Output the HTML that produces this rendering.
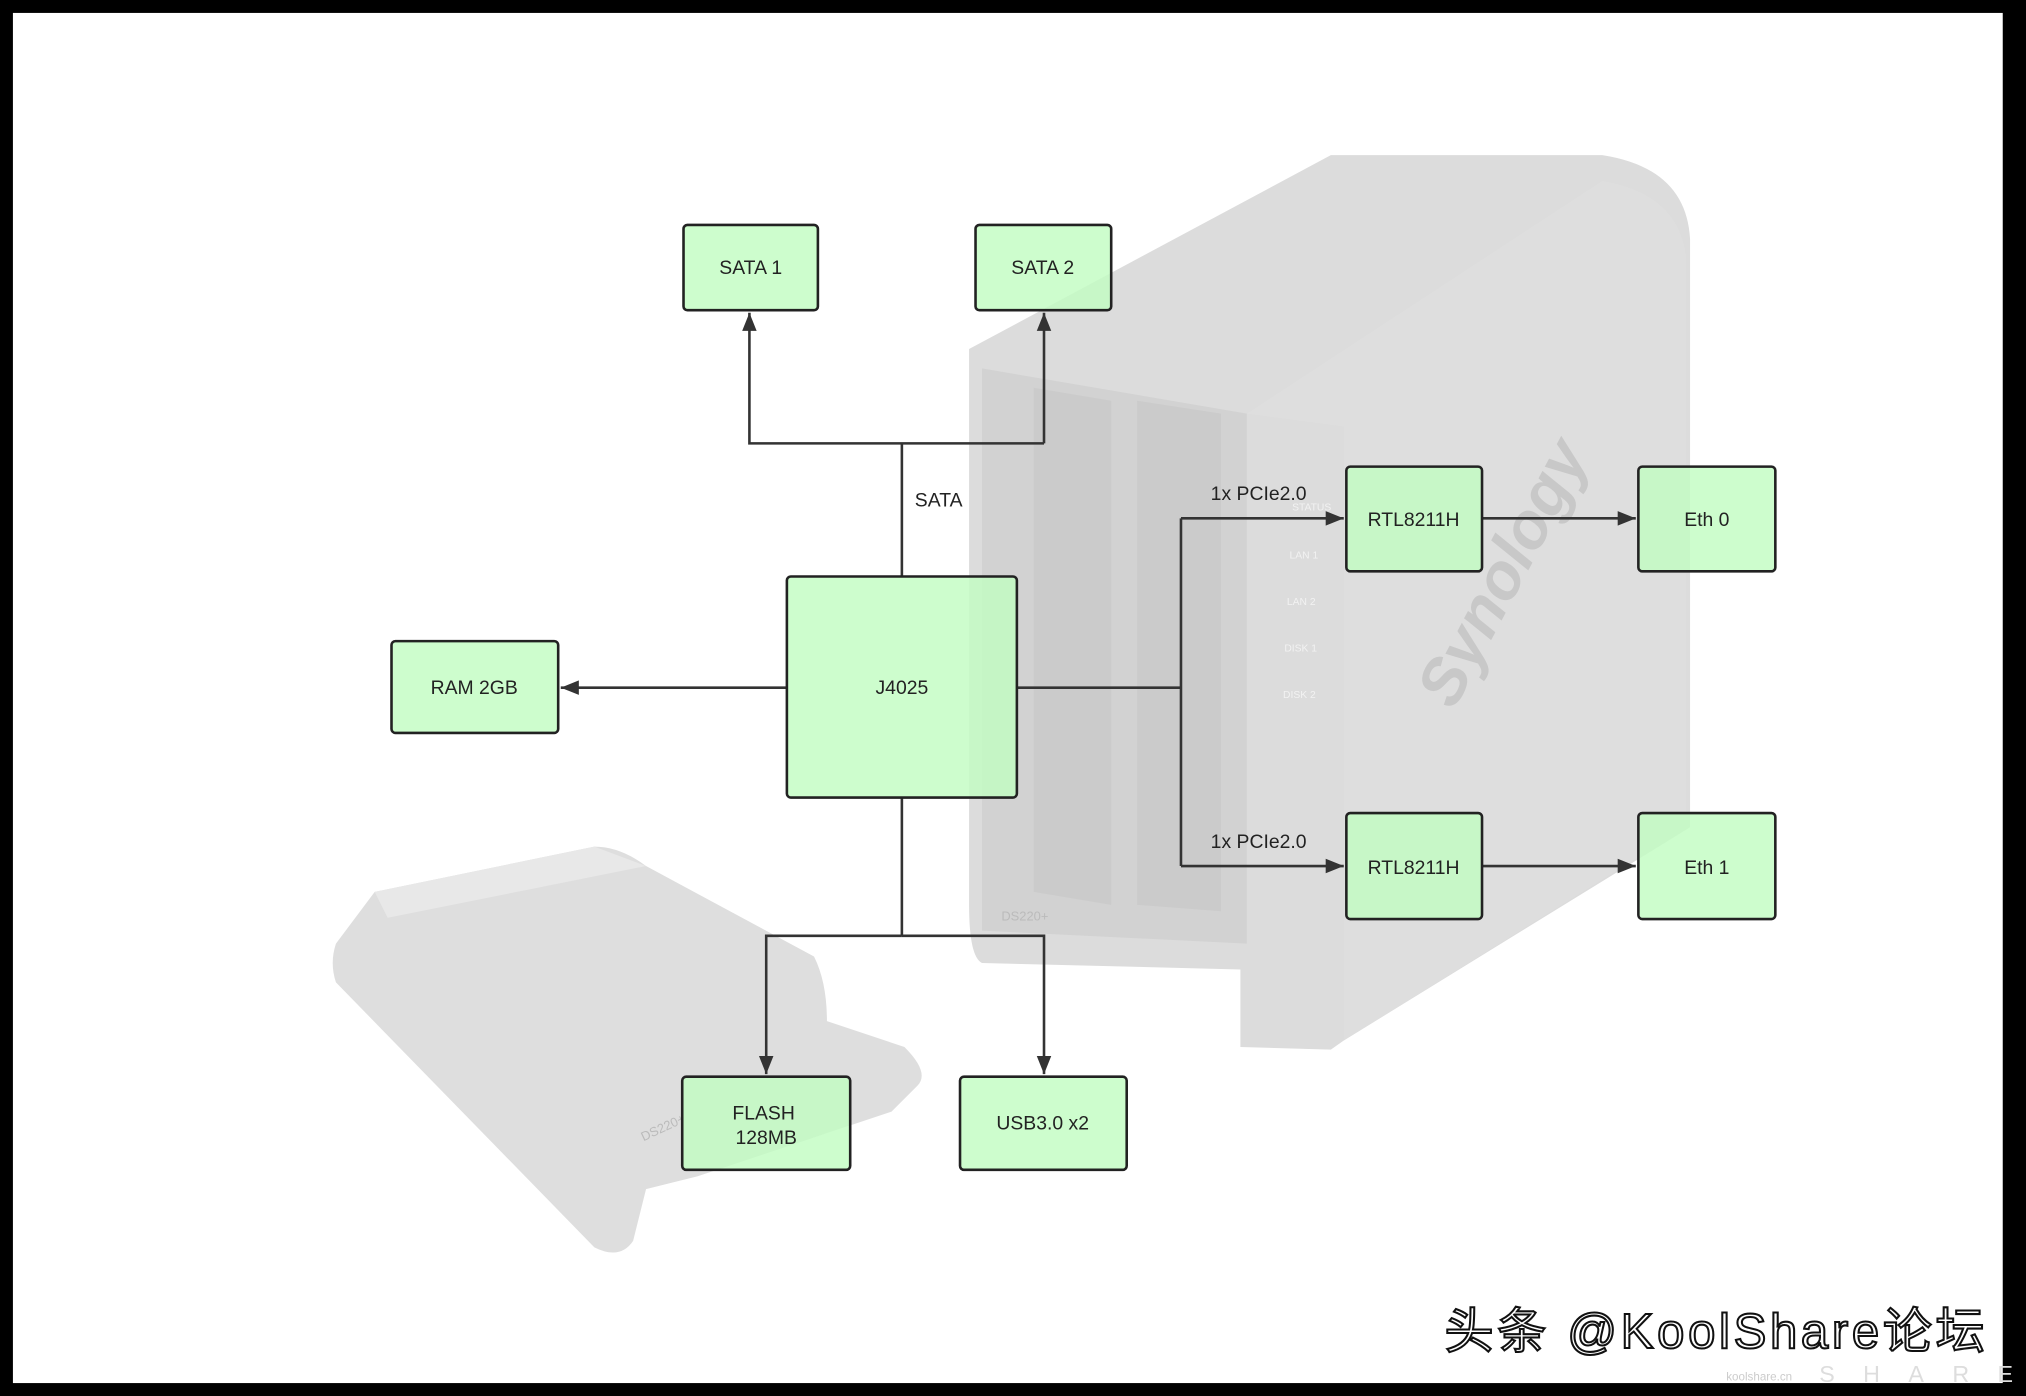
<!DOCTYPE html>
<html><head><meta charset="utf-8"><style>
html,body{margin:0;padding:0;background:#000;}
svg{display:block;}
</style></head><body>
<svg width="2026" height="1396" viewBox="0 0 1568 1080" preserveAspectRatio="none" xmlns="http://www.w3.org/2000/svg" font-family="Liberation Sans, Noto Sans CJK SC, sans-serif">
<defs>
<marker id="b" viewBox="0 0 10 10" refX="10" refY="5" markerWidth="14" markerHeight="14" orient="auto" markerUnits="userSpaceOnUse">
<path d="M0,1 L10,5 L0,9 z" fill="#333"/>
</marker>
</defs>
<rect x="0" y="0" width="1568" height="1080" fill="#000"/>
<rect x="10" y="10" width="1540" height="1060" fill="#fff"/>
<!-- NAS device backdrop -->
<path d="M750,270 L1030,120 L1240,120 Q1305,130 1308,185 L1308,640 L1040,805 L1030,812 L960,810 L960,750 L760,745 Q750,740 750,700 Z" fill="#dcdcdc"/>
<path d="M965,320 L1240,140 Q1300,150 1305,200 L1305,640 L1040,805 L1040,330 Z" fill="#dedede"/>
<path d="M760,285 L965,320 L965,730 L760,720 Z" fill="#d2d2d2"/>
<path d="M800,300 L860,310 L860,700 L800,690 Z" fill="#cbcbcb"/>
<path d="M880,310 L945,320 L945,705 L880,700 Z" fill="#cbcbcb"/>
<text x="1125" y="550" transform="rotate(-62 1125 550)" font-size="50" font-style="italic" font-weight="bold" fill="#c8c8c8">Synology</text>
<g font-size="8" fill="#f2f2f2"><text x="1000" y="395">STATUS</text><text x="998" y="432">LAN 1</text><text x="996" y="468">LAN 2</text><text x="994" y="504">DISK 1</text><text x="993" y="540">DISK 2</text></g>
<!-- drive cover -->
<path d="M290,690 L460,655 Q480,655 500,670 L630,740 Q640,760 640,790 L700,810 Q720,830 710,840 L690,860 L540,910 L500,920 L490,960 Q480,975 460,965 L260,760 Q255,745 260,730 Z" fill="#dedede"/>
<path d="M290,690 L460,655 L500,670 L300,710 Z" fill="#e8e8e8"/>
<text x="498" y="883" transform="rotate(-25 498 883)" font-size="10" fill="#bbb">DS220+</text>
<text x="775" y="712" font-size="10" fill="#bbb">DS220+</text>
<!-- connectors -->
<g stroke="#333" stroke-width="2" fill="none">
<path d="M698,446 L698,343"/>
<path d="M808,343 L580,343 L580,242" marker-end="url(#b)"/>
<path d="M808,343 L808,242" marker-end="url(#b)"/>
<path d="M609,532 L434,532" marker-end="url(#b)"/>
<path d="M787,532 L914,532"/>
<path d="M914,401 L914,670"/>
<path d="M914,401 L1040,401" marker-end="url(#b)"/>
<path d="M914,670 L1040,670" marker-end="url(#b)"/>
<path d="M1147,401 L1266,401" marker-end="url(#b)"/>
<path d="M1147,670 L1266,670" marker-end="url(#b)"/>
<path d="M698,617 L698,724"/>
<path d="M698,724 L593,724 L593,831" marker-end="url(#b)"/>
<path d="M698,724 L808,724 L808,831" marker-end="url(#b)"/>
</g>
<g font-size="15" fill="#222">
<text x="708" y="392">SATA</text>
<text x="937" y="387">1x PCIe2.0</text>
<text x="937" y="656">1x PCIe2.0</text>
</g>
<!-- boxes -->
<g fill="#c2fcc2" fill-opacity="0.82" stroke="#222" stroke-width="2">
<rect x="529" y="174" width="104" height="66" rx="3"/>
<rect x="755" y="174" width="105" height="66" rx="3"/>
<rect x="609" y="446" width="178" height="171" rx="3"/>
<rect x="303" y="496" width="129" height="71" rx="3"/>
<rect x="1042" y="361" width="105" height="81" rx="3"/>
<rect x="1268" y="361" width="106" height="81" rx="3"/>
<rect x="1042" y="629" width="105" height="82" rx="3"/>
<rect x="1268" y="629" width="106" height="82" rx="3"/>
<rect x="528" y="833" width="130" height="72" rx="3"/>
<rect x="743" y="833" width="129" height="72" rx="3"/>
</g>
<g font-size="15" fill="#222" text-anchor="middle">
<text x="581" y="212">SATA 1</text>
<text x="807" y="212">SATA 2</text>
<text x="698" y="537">J4025</text>
<text x="367" y="537">RAM 2GB</text>
<text x="1094" y="407">RTL8211H</text>
<text x="1321" y="407">Eth 0</text>
<text x="1094" y="676">RTL8211H</text>
<text x="1321" y="676">Eth 1</text>
<text x="591" y="866">FLASH</text>
<text x="593" y="885">128MB</text>
<text x="807" y="874">USB3.0 x2</text>
</g>
<!-- watermark -->
<text x="1118" y="1043" font-size="38" textLength="418" fill="#fff" stroke="#111" stroke-width="1.6" font-family="Liberation Sans, Noto Sans CJK SC, sans-serif">头条 @KoolShare论坛</text>
<text x="1336" y="1068" font-size="9" fill="#ccc">koolshare.cn</text>
<text x="1408" y="1069" font-size="18" fill="#ddd" letter-spacing="22">SHARE</text>
</svg>
</body></html>
